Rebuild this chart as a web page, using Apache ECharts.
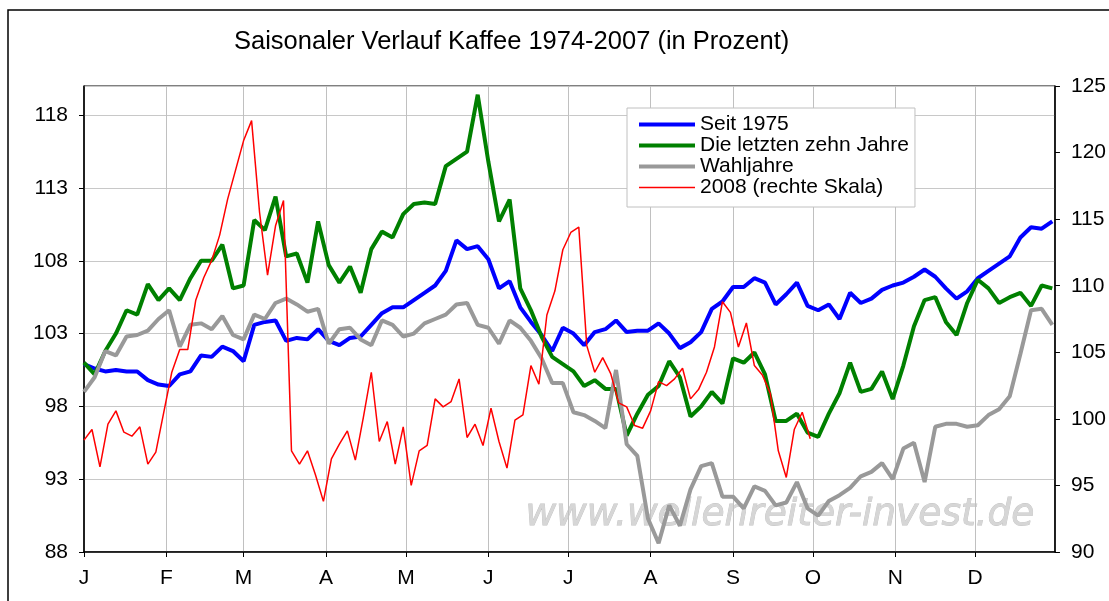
<!DOCTYPE html>
<html>
<head>
<meta charset="utf-8">
<script src="https://cdn.jsdelivr.net/npm/echarts@6/dist/echarts.min.js"></script>
<style>
html, body { margin: 0; padding: 0; background: #fff; }
#chart { width: 1109px; height: 601px; }
</style>
</head>
<body>
<div id="chart"></div>
<script>
// x axis: day of year (2008, leap year), labels at month starts
var monthLabels = ['J', 'F', 'M', 'A', 'M', 'J', 'J', 'A', 'S', 'O', 'N', 'D'];
var monthStarts = [0, 31, 60, 91, 121, 152, 182, 213, 244, 274, 305, 335];
var daysInYear = 365;

// spacing (in days) of the values
var avgStep = 4;
var redStep = 3;

var seit1975 = [
  100.9, 100.6, 100.4, 100.5, 100.4, 100.4, 99.8, 99.5, 99.4, 100.2,
  100.4, 101.5, 101.4, 102.1, 101.8, 101.1, 103.6, 103.8, 103.9, 102.5,
  102.7, 102.6, 103.3, 102.5, 102.2, 102.7, 102.8, 103.6, 104.4, 104.8,
  104.8, 105.3, 105.8, 106.3, 107.3, 109.4, 108.8, 109.0, 108.1, 106.1,
  106.6, 104.8, 103.8, 102.9, 101.8, 103.4, 103.0, 102.2, 103.1, 103.3,
  103.9, 103.1, 103.2, 103.2, 103.7, 103.0, 102.0, 102.4, 103.1, 104.7,
  105.2, 106.2, 106.2, 106.8, 106.5, 105.0, 105.7, 106.5, 104.9, 104.6,
  105.0, 104.0, 105.8, 105.1, 105.4, 106.0, 106.3, 106.5, 106.9, 107.4,
  106.9, 106.1, 105.4, 105.9, 106.8, 107.3, 107.8, 108.3, 109.6, 110.3,
  110.2, 110.7
];

var letzteZehn = [
  101.0, 100.2, 101.8, 103.0, 104.6, 104.3, 106.4, 105.3, 106.1, 105.3,
  106.8, 108.0, 108.0, 109.1, 106.1, 106.3, 110.8, 110.1, 112.4, 108.3,
  108.5, 106.5, 110.7, 107.7, 106.5, 107.6, 105.8, 108.8, 110.0, 109.6,
  111.2, 111.9, 112.0, 111.9, 114.5, 115.0, 115.5, 119.4, 114.8, 110.7,
  112.2, 106.1, 104.6, 102.8, 101.4, 100.9, 100.4, 99.4, 99.8, 99.2,
  99.2, 96.0, 97.5, 98.8, 99.4, 101.1, 100.0, 97.3, 98.0, 99.0,
  98.2, 101.3, 101.0, 101.7, 100.2, 97.0, 97.0, 97.5, 96.2, 95.9,
  97.5, 98.9, 101.0, 99.0, 99.2, 100.4, 98.5, 100.8, 103.5, 105.3,
  105.5, 103.8, 102.9, 105.1, 106.7, 106.1, 105.1, 105.5, 105.8, 104.9,
  106.3, 106.1
];

var wahljahre = [
  99.0, 100.0, 101.8, 101.5, 102.8, 102.9, 103.2, 104.0, 104.6, 102.1,
  103.6, 103.7, 103.3, 104.2, 102.9, 102.6, 104.3, 104.0, 105.1, 105.4,
  105.0, 104.5, 104.7, 102.3, 103.3, 103.4, 102.6, 102.2, 103.9, 103.6,
  102.8, 103.0, 103.7, 104.0, 104.3, 105.0, 105.1, 103.6, 103.4, 102.3,
  103.9, 103.4, 102.5, 101.3, 99.6, 99.6, 97.6, 97.4, 97.0, 96.5,
  100.5, 95.4, 94.6, 90.3, 88.6, 91.2, 89.8, 92.3, 93.9, 94.1,
  91.8, 91.8, 91.0, 92.5, 92.2, 91.2, 91.4, 92.8, 91.0, 90.5,
  91.5, 91.9, 92.4, 93.2, 93.5, 94.1, 93.0, 95.1, 95.5, 92.8,
  96.6, 96.8, 96.8, 96.6, 96.7, 97.4, 97.8, 98.7, 101.6, 104.6,
  104.7, 103.6
];

// 2008, plotted on the right axis
var jahr2008 = [
  98.4, 99.2, 96.4, 99.6, 100.6, 99.0, 98.7, 99.4, 96.6, 97.5,
  100.5, 103.5, 105.2, 105.2, 108.9, 110.6, 111.9, 113.8, 116.5, 118.7,
  120.9, 122.4, 115.5, 110.8, 114.5, 116.4, 97.6, 96.6, 97.6, 95.8,
  93.8, 97.0, 98.1, 99.1, 96.9, 100.1, 103.5, 98.3, 99.8, 96.6,
  99.4, 95.0, 97.6, 98.0, 101.5, 100.9, 101.3, 103.0, 98.6, 99.6,
  98.0, 100.8, 98.3, 96.3, 99.9, 100.3, 104.0, 102.6, 107.8, 109.6,
  112.7, 114.0, 114.4, 105.5, 103.5, 104.6, 103.4, 101.2, 100.9, 99.5,
  99.3, 100.6, 102.8, 102.5, 103.0, 103.8, 101.5, 102.2, 103.5, 105.4,
  108.8, 108.0, 105.4, 107.2, 104.0, 103.3, 101.9, 97.6, 95.6, 99.2,
  100.5, 98.5
];

var seriesNames = ['Seit 1975', 'Die letzten zehn Jahre', 'Wahljahre', '2008 (rechte Skala)'];
var seriesColors = ['#0000ff', '#008000', '#999999', '#ff0000'];
var seriesWidths = [4, 4, 4, 1.5];

// day categories for the helper axis that draws the month gridlines
var dayCategories = [];
for (var d = 0; d <= daysInYear; d++) dayCategories.push(d);

function toPoints(values, step) {
  return values.map(function (v, i) { return [i * step, v]; });
}

function lineSeries(idx, values, step, yAxisIndex) {
  return {
    name: seriesNames[idx],
    type: 'line',
    yAxisIndex: yAxisIndex,
    z: 3,
    showSymbol: false,
    symbol: 'none',
    data: toPoints(values, step),
    lineStyle: { color: seriesColors[idx], width: seriesWidths[idx] },
    itemStyle: { color: seriesColors[idx] }
  };
}

var font = '"Liberation Sans", Arial, sans-serif';
var myChart = echarts.init(document.getElementById('chart'), null, { width: 1109, height: 601 });

var option = {
  animation: false,
  backgroundColor: '#fff',
  textStyle: { fontFamily: font, color: '#000' },
  title: {
    text: 'Saisonaler Verlauf Kaffee 1974-2007 (in Prozent)',
    left: 229,
    top: 24,
    textStyle: { fontSize: 25.5, fontWeight: 'normal', color: '#000', fontFamily: font }
  },
  legend: {
    data: seriesNames.map(function (n, i) {
      return { name: n, lineStyle: { width: seriesWidths[i], color: seriesColors[i] } };
    }),
    orient: 'vertical',
    left: 627,
    top: 108,
    padding: [6, 6, 9, 10],
    itemWidth: 56,
    itemHeight: 14,
    itemGap: 0,
    itemStyle: { opacity: 0 },
    backgroundColor: '#fff',
    borderColor: '#c0c0c0',
    borderWidth: 1,
    textStyle: { fontSize: 21, color: '#000', fontFamily: font }
  },
  graphic: [
    {
      type: 'rect',
      silent: true,
      z: 100,
      shape: { x: 8, y: 10, width: 1130, height: 640 },
      style: { fill: 'none', stroke: '#000', lineWidth: 1.5 }
    },
    {
      type: 'text',
      silent: true,
      z: 0,
      left: 525,
      top: 496,
      style: {
        text: 'www.wellenreiter-invest.de',
        fontSize: 37.5,
        fontStyle: 'italic',
        fontFamily: '"DejaVu Sans", sans-serif',
        fill: '#d6d6d6',
        stroke: '#c2c2c2',
        lineWidth: 0.8
      }
    }
  ],
  grid: {
    left: 84,
    top: 86,
    right: 53,
    bottom: 49,
    show: true,
    borderColor: '#000',
    borderWidth: 1
  },
  xAxis: [
    {
      type: 'value',
      min: 0,
      max: daysInYear,
      axisLine: { lineStyle: { color: '#000', width: 1.5 } },
      axisTick: { show: true, inside: false, length: 5, customValues: monthStarts, lineStyle: { color: '#000' } },
      axisLabel: {
        customValues: monthStarts,
        fontSize: 21,
        color: '#000',
        margin: 16,
        formatter: function (v) {
          var k = monthStarts.indexOf(v);
          return k >= 0 ? monthLabels[k] : '';
        }
      },
      splitLine: { show: false }
    },
    {
      // helper axis: only draws the vertical month gridlines
      type: 'category',
      data: dayCategories,
      boundaryGap: false,
      position: 'bottom',
      axisLine: { show: false },
      axisTick: { show: false },
      axisLabel: { show: false },
      splitLine: {
        show: true,
        interval: function (index) { return monthStarts.indexOf(index) > 0; },
        lineStyle: { color: '#c0c0c0', width: 1 }
      }
    }
  ],
  yAxis: [
    {
      type: 'value',
      min: 88,
      max: 120,
      interval: 5,
      axisLine: { show: true, lineStyle: { color: '#000', width: 1.5 } },
      axisTick: { show: true, inside: false, length: 5, lineStyle: { color: '#000' } },
      axisLabel: { fontSize: 21, color: '#000', margin: 16, showMaxLabel: false },
      splitLine: { show: true, lineStyle: { color: '#c8c8c8', width: 1 } }
    },
    {
      type: 'value',
      min: 90,
      max: 125,
      interval: 5,
      position: 'right',
      axisLine: { show: true, lineStyle: { color: '#000', width: 1.5 } },
      axisTick: { show: true, inside: false, length: 5, lineStyle: { color: '#000' } },
      axisLabel: { fontSize: 21, color: '#000', margin: 16 },
      splitLine: { show: false }
    }
  ],
  series: [
    lineSeries(0, seit1975, avgStep, 0),
    lineSeries(1, letzteZehn, avgStep, 0),
    lineSeries(2, wahljahre, avgStep, 0),
    lineSeries(3, jahr2008, redStep, 1)
  ]
};

myChart.setOption(option);
</script>
</body>
</html>
